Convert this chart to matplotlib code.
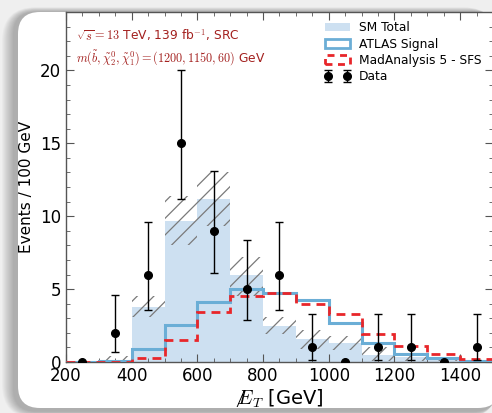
import numpy as np
import matplotlib
matplotlib.use("Agg")
import matplotlib.pyplot as plt
from matplotlib.patches import Patch, FancyBboxPatch
from matplotlib.mathtext import MathTextParser

plt.rcParams['mathtext.fontset'] = 'cm'
plt.rcParams['font.family'] = ['DejaVu Sans']
plt.rcParams['hatch.linewidth'] = 0.9

# ---- data ----
edges = [200, 300, 400, 500, 600, 700, 800, 900, 1000, 1100, 1200, 1300, 1400, 1500]
sm_total = [0.0, 0.1, 3.8, 9.7, 11.15, 5.95, 2.5, 1.6, 1.3, 0.46, 0.35, 0.2, 0.1]
sm_unc_low = [0.0, 0.0, 3.1, 8.0, 9.35, 4.5, 1.95, 0.9, 0.8, 0.1, 0.1, 0.05, 0.02]
sm_unc_high = [0.0, 0.4, 4.5, 11.4, 13.0, 7.2, 3.1, 2.2, 1.75, 1.0, 0.65, 0.35, 0.2]
atlas_signal = [0.0, 0.05, 0.88, 2.57, 4.1, 4.98, 4.75, 4.22, 2.65, 1.27, 0.53, 0.25, 0.06]
ma5_sfs = [0.0, 0.03, 0.3, 1.54, 3.4, 4.55, 4.7, 4.0, 3.26, 1.95, 1.1, 0.57, 0.23]
data_x = [250, 350, 450, 550, 650, 750, 850, 950, 1050, 1150, 1250, 1350, 1450]
data_y = [0, 2, 6, 15, 9, 5, 6, 1, 0, 1, 1, 0, 1]
data_lo = [0, 0.7, 3.6, 11.2, 6.1, 2.85, 3.6, 0.17, 0, 0.17, 0.17, 0, 0.17]
data_hi = [0, 4.6, 9.6, 20.0, 13.1, 8.4, 9.6, 3.3, 0, 3.3, 3.3, 0, 3.3]

W, H = 492, 413
fig = plt.figure(figsize=(W / 100, H / 100), dpi=100)
fig.patch.set_facecolor('#efefef')

# background card with shadow (figure pixel coords -> fraction)
def fbox(x0, y0, x1, y1, r, **kw):
    return FancyBboxPatch((x0 / W, 1 - y1 / H), (x1 - x0) / W, (y1 - y0) / H,
                          boxstyle=f"round,pad=0,rounding_size={r / W}",
                          transform=fig.transFigure, mutation_aspect=W / H,
                          zorder=-10, **kw)

for i in range(12):
    g = 12 - i
    fig.patches.append(fbox(18 - 4 - g, 12 - g * 0.4, 497, 408 + 3 + g * 0.6, 22 + g,
                            facecolor='black', edgecolor='none', alpha=0.022))
fig.patches.append(fbox(18, 12, 500, 408, 22, facecolor='white', edgecolor='none'))

ax = fig.add_axes([66 / W, (H - 362) / H, (492 - 66) / W + 0.002, (362 - 12) / H])
ax.set_facecolor('white')

sm_color = '#cde0f1'
ax.stairs(sm_total, edges, fill=True, color=sm_color, lw=0, zorder=1)
ax.stairs(sm_unc_high, edges, baseline=sm_unc_low, fill=True, facecolor='none',
          edgecolor='#7a7a7a', hatch='//', lw=0, zorder=2)
ax.stairs(atlas_signal, edges, color='#6baed6', lw=2.2, zorder=3)
ax.stairs(ma5_sfs, edges, color='#e8262a', lw=2.0, ls=(0, (3.2, 2.2)), zorder=4)

yerr = [np.array(data_y) - np.array(data_lo), np.array(data_hi) - np.array(data_y)]
eb = ax.errorbar(data_x, data_y, yerr=yerr, fmt='o', color='black', ms=5.5,
                 elinewidth=1.0, capsize=3, capthick=1.0, zorder=5, clip_on=True)

ax.set_xlim(200, 1500)
ax.set_ylim(0, 24)
ax.set_xticks([200, 400, 600, 800, 1000, 1200, 1400])
ax.set_yticks([0, 5, 10, 15, 20])
ax.set_xticks(np.arange(200, 1501, 50), minor=True)
ax.set_yticks(np.arange(0, 24.1, 1), minor=True)
ax.tick_params(which='both', direction='in', top=True, right=True, labelsize=12,
               color='#555555')
ax.tick_params(which='major', length=6, width=0.8)
ax.tick_params(which='minor', length=3, width=0.6)
for s in ax.spines.values():
    s.set_color('#555555')
    s.set_linewidth(1.0)

ax.set_ylabel('Events / 100 GeV', fontsize=11, labelpad=4)
xl = r'$\not\!\!E_T$ [GeV]'
try:
    MathTextParser('path').parse(r'$\not\!\!E_T$', 72)
except Exception:
    xl = r'$/\!\!\!\!E_T$ [GeV]'
ax.set_xlabel(xl, fontsize=14, labelpad=2)

red = '#a3201e'
ax.text(0.023, 0.934, r'$\sqrt{s} = 13$ TeV, 139 fb$^{-1}$, SRC', transform=ax.transAxes,
        color=red, fontsize=8.8, va='center', ha='left')
ax.text(0.023, 0.871, r'$m(\tilde{b},\tilde{\chi}_2^0,\tilde{\chi}_1^0) = (1200, 1150, 60)$ GeV',
        transform=ax.transAxes, color=red, fontsize=8.8, va='center', ha='left')

ls_leg = (0, (2.5, 2.0))
handles = [Patch(facecolor=sm_color, edgecolor='none'),
           Patch(facecolor='none', edgecolor='#6baed6', lw=2),
           Patch(facecolor='none', edgecolor='#e8262a', lw=2, ls=ls_leg),
           eb]
labels = ['SM Total', 'ATLAS Signal', 'MadAnalysis 5 - SFS', 'Data']
ax.legend(handles, labels, loc='upper left', bbox_to_anchor=(0.606, 0.974), frameon=False,
          fontsize=8.8, numpoints=2, handlelength=2.1, handletextpad=0.7,
          labelspacing=0.28, borderaxespad=0, borderpad=0)

fig.savefig('out.png', dpi=100, facecolor=fig.get_facecolor())
